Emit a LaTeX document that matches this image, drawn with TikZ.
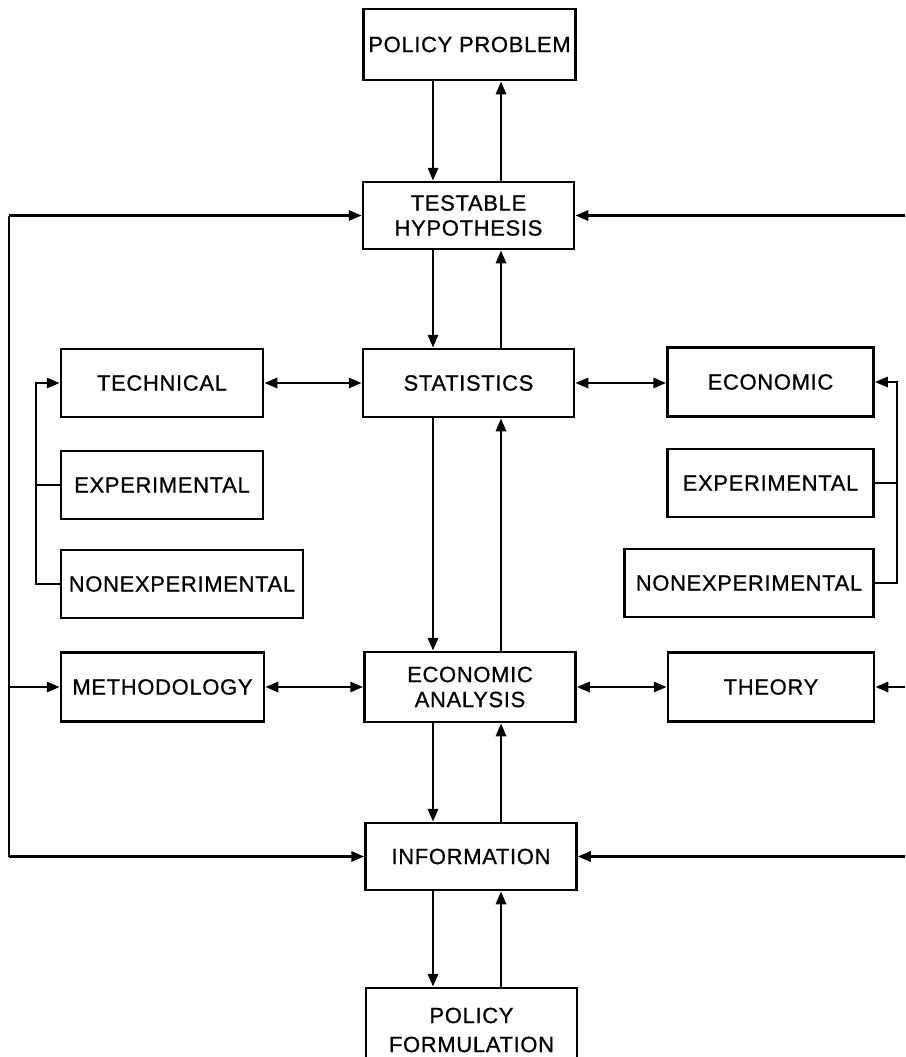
\documentclass[tikz,border=0pt]{standalone}
\usepackage{fontspec}
\setmainfont{Liberation Sans}[LetterSpace=3,FakeBold=0.8]
\usetikzlibrary{arrows.meta}
\begin{document}
\begin{tikzpicture}[x=1pt,y=-1pt,
  box/.style={draw=black, line width=2.5pt, inner sep=0pt, minimum height=68pt,
    align=center, font=\fontsize{22}{25}\selectfont},
  conn/.style={line width=2.9pt, line join=miter},
  tip/.style={-{Triangle[length=13pt,width=10pt]}},
  bi/.style={{Triangle[length=13pt,width=10pt]}-{Triangle[length=13pt,width=10pt]}}]
\useasboundingbox (0,0) rectangle (905,1057);
\clip (0,0) rectangle (905,1057);
% central column
\node[box, minimum width=212pt, minimum height=71pt] (pp) at (469.5,44.5) {POLICY PROBLEM};
\node[box, minimum width=211pt, minimum height=67pt] (th) at (468.5,215.5) {TESTABLE\\HYPOTHESIS};
\node[box, minimum width=211pt] (st) at (468.5,383) {STATISTICS};
\node[box, minimum width=211pt, minimum height=70pt] (ea) at (470,687) {ECONOMIC\\ANALYSIS};
\node[box, minimum width=211pt, minimum height=67pt] (inf) at (471,856.5) {INFORMATION};
\node[box, minimum width=211pt, minimum height=84pt, font=\fontsize{22}{29}\selectfont] (pf) at (471.5,1030) {POLICY\\FORMULATION};
% left column
\node[box, minimum width=202pt] (tech) at (162,383) {TECHNICAL};
\node[box, minimum width=202pt] (lexp) at (162,485) {EXPERIMENTAL};
\node[box, minimum width=242pt] (lnon) at (182,584) {NONEXPERIMENTAL};
\node[box, minimum width=203pt, minimum height=69pt] (meth) at (162.5,687) {METHODOLOGY};
% right column
\node[box, minimum width=206pt, minimum height=69pt] (econ) at (770.5,382) {ECONOMIC};
\node[box, minimum width=206pt] (rexp) at (770.5,483) {EXPERIMENTAL};
\node[box, minimum width=249pt] (rnon) at (749,583) {NONEXPERIMENTAL};
\node[box, minimum width=206pt, minimum height=69pt] (theo) at (771,687) {THEORY};
% helper coordinates
\coordinate (dn) at (433,0);
\coordinate (up) at (501,0);
\coordinate (Lx) at (9,0);
\coordinate (Bx) at (36,0);
\coordinate (Rb) at (897,0);
\coordinate (Rx) at (915,0);
% vertical pairs
\draw[conn,tip] (pp.south -| dn) -- (th.north -| dn);
\draw[conn,tip] (th.north -| up) -- (pp.south -| up);
\draw[conn,tip] (th.south -| dn) -- (st.north -| dn);
\draw[conn,tip] (st.north -| up) -- (th.south -| up);
\draw[conn,tip] (st.south -| dn) -- (ea.north -| dn);
\draw[conn,tip] (ea.north -| up) -- (st.south -| up);
\draw[conn,tip] (ea.south -| dn) -- (inf.north -| dn);
\draw[conn,tip] (inf.north -| up) -- (ea.south -| up);
\draw[conn,tip] (inf.south -| dn) -- (pf.north -| dn);
\draw[conn,tip] (pf.north -| up) -- (inf.south -| up);
% horizontal bidirectional
\draw[conn,bi] (tech.east) -- (st.west);
\draw[conn,bi] (st.east) -- (st.east -| econ.west);
\draw[conn,bi] (meth.east) -- (ea.west);
\draw[conn,bi] (ea.east) -- (theo.west);
% outer left loop
\draw[conn] (th.west -| Lx) -- (inf.west -| Lx);
\draw[conn,tip] (th.west -| Lx) -- (th.west);
\draw[conn,tip] (meth.west -| Lx) -- (meth.west);
\draw[conn,tip] (inf.west -| Lx) -- (inf.west);
% outer right lines
\draw[conn,tip] (th.east -| Rx) -- (th.east);
\draw[conn,tip] (theo.east -| Rx) -- (theo.east);
\draw[conn,tip] (inf.east -| Rx) -- (inf.east);
% left bracket
\draw[conn,tip] (lnon.west) -| (tech.west -| Bx) -- (tech.west);
\draw[conn] (lexp.west) -- (lexp.west -| Bx);
% right bracket
\draw[conn,tip] (rnon.east) -| (econ.east -| Rb) -- (econ.east);
\draw[conn] (rexp.east) -- (rexp.east -| Rb);
\end{tikzpicture}
\end{document}
